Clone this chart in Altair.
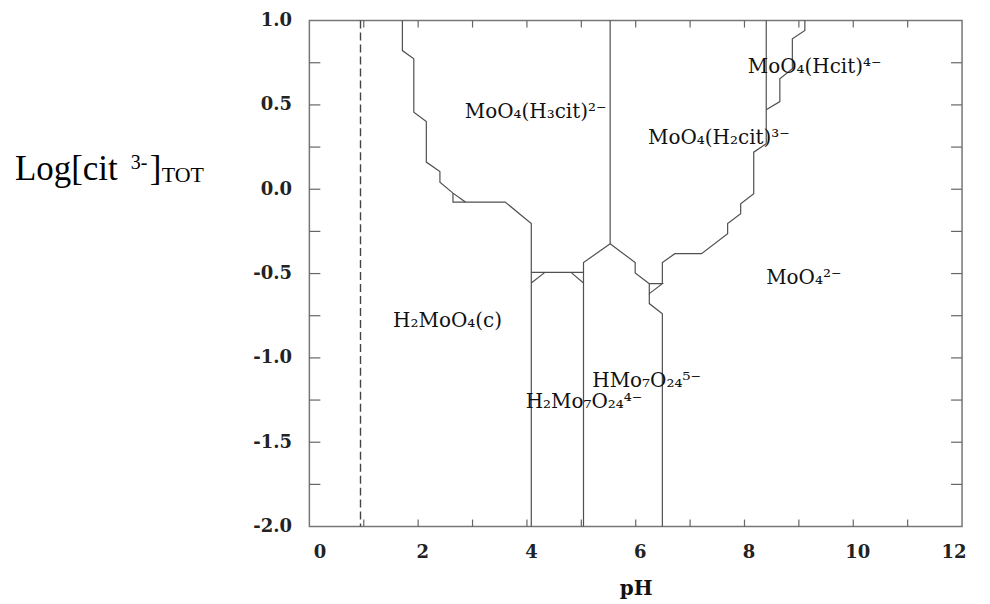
import altair as alt
import pandas as pd

# ---- boundary polylines (pH, log[cit]) ----
dash_ph = [0.94, 0.94]
dash_log = [1.0, -2.0]

a_ph = [1.71, 1.71, 1.92, 1.92, 2.15, 2.15, 2.40, 2.40, 2.64, 2.87, 3.60, 4.08, 4.08, 4.08]
a_log = [1.0, 0.822, 0.773, 0.457, 0.402, 0.161, 0.105, 0.042, -0.023, -0.076, -0.076, -0.203, -0.493, -2.0]

t1_ph = [2.64, 2.64, 2.87]
t1_log = [-0.023, -0.076, -0.076]

h_ph = [4.08, 5.04]
h_log = [-0.493, -0.493]

t2_ph = [4.33, 4.08]
t2_log = [-0.493, -0.556]

t3_ph = [4.81, 5.04]
t3_log = [-0.493, -0.556]

b_ph = [5.04, 5.04, 5.53, 5.99, 5.99, 6.25]
b_log = [-2.0, -0.435, -0.323, -0.435, -0.497, -0.560]

c_ph = [5.53, 5.53]
c_log = [-0.323, 1.0]

t4_ph = [6.25, 6.49, 6.25, 6.25]
t4_log = [-0.560, -0.560, -0.619, -0.560]

d_ph = [6.25, 6.25, 6.49, 6.49]
d_log = [-0.619, -0.678, -0.738, -2.0]

e_ph = [6.49, 6.49, 6.72, 7.21, 7.69, 7.69, 7.93, 7.93, 8.17, 8.17, 8.40]
e_log = [-0.560, -0.435, -0.382, -0.382, -0.264, -0.204, -0.145, -0.086, -0.027, 0.220, 0.270]

f_ph = [8.40, 8.40]
f_log = [0.270, 1.0]

g_ph = [8.40, 8.65, 8.65, 8.88, 8.88, 9.11, 9.11]
g_log = [0.471, 0.520, 0.655, 0.714, 0.892, 0.941, 1.0]

# ---- species labels ----
species = ["MoO₄(H₃cit)²⁻", "MoO₄(H₂cit)³⁻", "MoO₄(Hcit)⁴⁻", "MoO₄²⁻",
           "H₂MoO₄(c)", "HMo₇O₂₄⁵⁻", "H₂Mo₇O₂₄⁴⁻"]
species_ph = [4.16, 7.53, 9.29, 9.09, 2.54, 6.20, 5.05]
species_log = [0.424, 0.270, 0.690, -0.560, -0.817, -1.172, -1.297]

# ---- axis ticks ----
x_labels = [0, 2, 4, 6, 8, 10, 12]
x_minor = [1, 2, 3, 4, 5, 6, 7, 8, 9, 10, 11]
y_labels = [-2.0, -1.5, -1.0, -0.5, 0.0, 0.5, 1.0]
y_minor = [-1.75, -1.5, -1.25, -1.0, -0.75, -0.5, -0.25, 0.0, 0.25, 0.5, 0.75]

W, H = 654, 507

segments = {
    "A": (a_ph, a_log), "T1": (t1_ph, t1_log), "H": (h_ph, h_log),
    "T2": (t2_ph, t2_log), "T3": (t3_ph, t3_log), "B": (b_ph, b_log),
    "C": (c_ph, c_log), "T4": (t4_ph, t4_log), "D": (d_ph, d_log),
    "E": (e_ph, e_log), "F": (f_ph, f_log), "G": (g_ph, g_log),
}
rows = []
for name, (xs, ys) in segments.items():
    for i, (x, y) in enumerate(zip(xs, ys)):
        rows.append({"seg": name, "i": i, "pH": x, "logc": y})
lines_df = pd.DataFrame(rows)
dash_df = pd.DataFrame({"seg": "dash", "i": range(len(dash_ph)), "pH": dash_ph, "logc": dash_log})
lab_df = pd.DataFrame({"label": species, "pH": species_ph, "logc": species_log})
xt_df = pd.DataFrame({"pH": x_minor})
yt_df = pd.DataFrame({"logc": y_minor})

xscale = alt.Scale(domain=[0, 12], nice=False, zero=False)
yscale = alt.Scale(domain=[-2, 1], nice=False, zero=False)

SERIF = "DejaVu Serif"

x_axis = alt.Axis(values=x_labels, format="d", labelFont=SERIF, labelFontSize=18,
                  labelFontWeight="bold", labelColor="#222",
                  ticks=False, domain=False, grid=False,
                  labelPadding=17, labelOffset=4, labelBaseline="top",
                  title="pH", titleFont=SERIF, titleFontSize=20, titleFontWeight="bold",
                  titleColor="#111", titleY=68, titleBaseline="alphabetic")
y_axis = alt.Axis(values=y_labels, format=".1f",
                  labelExpr="replace(datum.label, '−', '-')",
                  labelFont=SERIF, labelFontSize=18, labelFontWeight="bold",
                  labelColor="#222", ticks=False, domain=False, grid=False,
                  labelPadding=18, title=None)

X = alt.X("pH:Q", scale=xscale, axis=x_axis)
Y = alt.Y("logc:Q", scale=yscale, axis=y_axis)

LINE = "#505050"

lines = alt.Chart(lines_df).mark_line(color=LINE, strokeWidth=1.2).encode(
    x=X, y=Y, detail="seg:N", order="i:Q",
)

dash = alt.Chart(dash_df).mark_line(color="#444", strokeWidth=1.4, strokeDash=[8, 4]).encode(
    x=X, y=Y, order="i:Q",
)

labels = alt.Chart(lab_df).mark_text(font=SERIF, fontSize=20, color="#111",
                                     align="center", baseline="alphabetic").encode(
    x=X, y=Y, text="label:N",
)

TICK = "#666"
xt_bot = alt.Chart(xt_df).mark_rule(color=TICK, strokeWidth=1.2).encode(
    x=X, y=alt.value(H), y2=alt.value(H - 7))
xt_top = alt.Chart(xt_df).mark_rule(color=TICK, strokeWidth=1.2).encode(
    x=X, y=alt.value(0), y2=alt.value(7))
yt_left = alt.Chart(yt_df).mark_rule(color=TICK, strokeWidth=1.2).encode(
    y=Y, x=alt.value(0), x2=alt.value(11))
yt_right = alt.Chart(yt_df).mark_rule(color=TICK, strokeWidth=1.2).encode(
    y=Y, x=alt.value(W), x2=alt.value(W - 11))

one = alt.Data(values=[{}])
TIMES = "Liberation Serif"
t_main = alt.Chart(one).mark_text(font=TIMES, fontSize=35, color="#000", align="left",
                                  baseline="alphabetic").encode(
    x=alt.value(-295), y=alt.value(160), text=alt.value("Log[cit"))
t_sup = alt.Chart(one).mark_text(font=TIMES, fontSize=20, color="#000", align="left",
                                 baseline="alphabetic").encode(
    x=alt.value(-179), y=alt.value(149), text=alt.value("3-"))
t_br = alt.Chart(one).mark_text(font=TIMES, fontSize=35, color="#000", align="left",
                                baseline="alphabetic").encode(
    x=alt.value(-160), y=alt.value(160), text=alt.value("]"))
t_sub = alt.Chart(one).mark_text(font=TIMES, fontSize=22, color="#000", align="left",
                                 baseline="alphabetic").encode(
    x=alt.value(-148), y=alt.value(162), text=alt.value("TOT"))

chart = alt.layer(
    lines, dash, labels, xt_bot, xt_top, yt_left, yt_right,
    t_main, t_sup, t_br, t_sub,
).properties(
    width=W, height=H,
    autosize=alt.AutoSizeParams(type="none"),
    padding={"left": 302, "top": 12, "right": 20, "bottom": 77},
).configure_view(stroke="#777", strokeWidth=1.5)

chart.save("out.html", embed_options={"renderer": "svg", "actions": False})
